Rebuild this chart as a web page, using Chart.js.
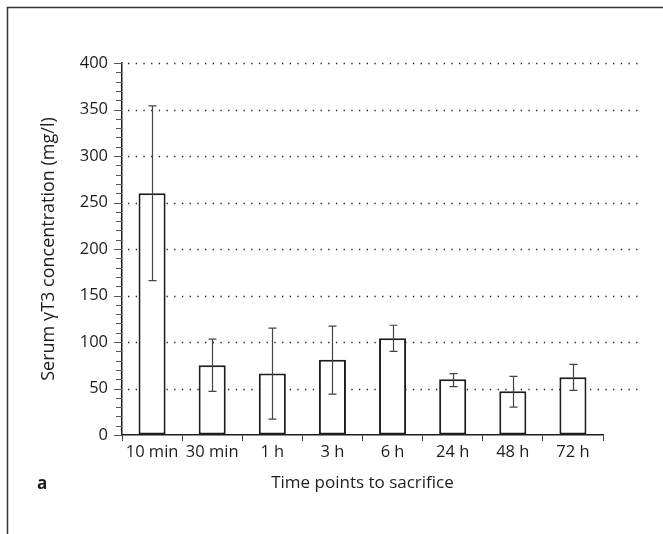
<!DOCTYPE html>
<html>
<head>
<meta charset="utf-8">
<script src="https://cdn.jsdelivr.net/npm/chart.js@4.4.1/dist/chart.umd.min.js"></script>
<style>
  html, body { margin: 0; padding: 0; background: #fff; }
  #wrap { width: 663px; height: 534px; position: relative; }
</style>
</head>
<body>
<div id="wrap"><canvas id="chart"></canvas></div>
<script>
// Data
const timeLabels = ['10 min', '30 min', '1 h', '3 h', '6 h', '24 h', '48 h', '72 h'];
const meanValues = [260, 75, 66, 81, 104, 60, 47, 62];
const errLow = [166, 47, 17, 44, 90, 52, 30, 48];
const errHigh = [354, 103, 115, 117, 118, 66, 63, 76];

const INK = '#1f1c1d';
const FONT = "'Open Sans', sans-serif";

const figurePlugin = {
    id: 'figure',
    beforeDraw(chart) {
        const ctx = chart.ctx;
        ctx.save();
        ctx.fillStyle = '#fff';
        ctx.fillRect(0, 0, chart.width, chart.height);
        // panel frame (top + left)
        ctx.strokeStyle = '#333';
        ctx.lineWidth = 1.5;
        ctx.beginPath();
        ctx.moveTo(7.5, chart.height);
        ctx.lineTo(7.5, 7.5);
        ctx.lineTo(chart.width, 7.5);
        ctx.stroke();
        ctx.restore();
    },
    beforeDatasetsDraw(chart) {
        const ctx = chart.ctx;
        const y = chart.scales.y;
        const area = chart.chartArea;
        ctx.save();
        // dotted grid lines every 50
        ctx.strokeStyle = INK;
        ctx.lineWidth = 1.3;
        ctx.setLineDash([1.3, 6.4]);
        y.ticks.forEach(t => {
            if (t.value > 0 && t.value % 50 === 0) {
                const py = Math.round(y.getPixelForValue(t.value)) + 0.5;
                ctx.beginPath();
                ctx.moveTo(area.left + 6, py);
                ctx.lineTo(640, py);
                ctx.stroke();
            }
        });
        ctx.setLineDash([]);
        // y-axis major / minor tick marks
        ctx.strokeStyle = '#555';
        ctx.lineWidth = 1;
        y.ticks.forEach(t => {
            const py = Math.round(y.getPixelForValue(t.value)) + 0.5;
            const len = t.value % 50 === 0 ? 8 : 6;
            ctx.beginPath();
            ctx.moveTo(area.left - len, py);
            ctx.lineTo(area.left, py);
            ctx.stroke();
        });
        ctx.restore();
    },
    afterDatasetsDraw(chart) {
        const ctx = chart.ctx;
        const x = chart.scales.x;
        const y = chart.scales.y;
        ctx.save();
        ctx.strokeStyle = '#444';
        ctx.lineWidth = 1.2;
        timeLabels.forEach((_, i) => {
            const px = Math.round(x.getPixelForValue(i)) + 0.5;
            const yHi = y.getPixelForValue(errHigh[i]);
            const yLo = y.getPixelForValue(errLow[i]);
            ctx.beginPath();
            ctx.moveTo(px, yHi);
            ctx.lineTo(px, yLo);
            ctx.moveTo(px - 4, yHi);
            ctx.lineTo(px + 4, yHi);
            ctx.moveTo(px - 4, yLo);
            ctx.lineTo(px + 4, yLo);
            ctx.stroke();
        });
        ctx.restore();
    },
    afterDraw(chart) {
        const ctx = chart.ctx;
        ctx.save();
        ctx.fillStyle = INK;
        ctx.font = "bold 17px " + FONT;
        ctx.textBaseline = 'alphabetic';
        ctx.fillText('a', 37, 489);
        ctx.restore();
    }
};

const ctx = document.getElementById('chart').getContext('2d');
new Chart(ctx, {
    type: 'bar',
    data: {
        labels: timeLabels,
        datasets: [{
            data: meanValues,
            backgroundColor: '#fff',
            borderColor: INK,
            borderWidth: 2,
            borderSkipped: false,
            categoryPercentage: 1,
            barPercentage: 0.45
        }]
    },
    options: {
        responsive: true,
        maintainAspectRatio: false,
        animation: false,
        events: [],
        layout: { padding: { left: 38, right: 60, top: 63, bottom: 41 } },
        plugins: { legend: { display: false }, tooltip: { enabled: false } },
        scales: {
            x: {
                offset: true,
                grid: { offset: true, drawOnChartArea: false, drawTicks: true, tickLength: 6, color: '#444', lineWidth: 1 },
                border: { display: true, color: INK, width: 1.5 },
                ticks: { color: INK, font: { family: FONT, size: 16.5 }, padding: 1, maxRotation: 0, autoSkip: false },
                title: { display: true, text: 'Time points to sacrifice', color: INK, font: { family: FONT, size: 17 }, padding: 0 },
                afterFit(s) { s.height = 58; }
            },
            y: {
                min: 0,
                max: 400,
                grid: { display: true, drawOnChartArea: false, drawTicks: false },
                border: { display: true, color: INK, width: 1.5 },
                ticks: {
                    stepSize: 10,
                    autoSkip: false,
                    padding: 14,
                    color: INK,
                    font: { family: FONT, size: 16.5 },
                    callback: v => (v % 50 === 0 ? v : '')
                },
                title: { display: true, text: 'Serum γT3 concentration (mg/l)', color: INK, font: { family: FONT, size: 18 }, padding: 0 },
                afterFit(s) { s.width = 84; }
            }
        }
    },
    plugins: [figurePlugin]
});
</script>
</body>
</html>
